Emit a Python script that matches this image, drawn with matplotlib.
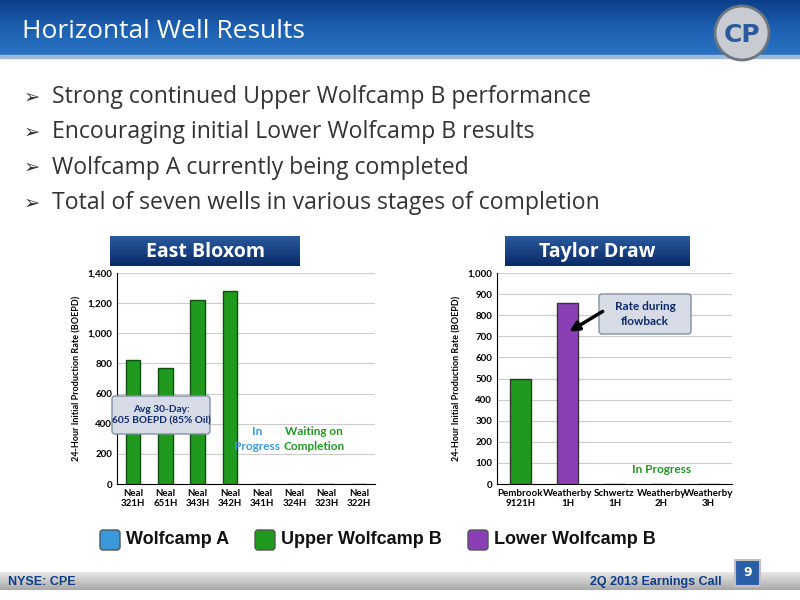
import matplotlib
matplotlib.use("Agg")
import matplotlib.pyplot as plt
import numpy as np
from matplotlib.patches import Rectangle, FancyBboxPatch

title = "Horizontal Well Results"
bullets = ["Strong continued Upper Wolfcamp B performance",
           "Encouraging initial Lower Wolfcamp B results",
           "Wolfcamp A currently being completed",
           "Total of seven wells in various stages of completion"]
east_wells = ["Neal\n321H", "Neal\n651H", "Neal\n343H", "Neal\n342H", "Neal\n341H", "Neal\n324H", "Neal\n323H", "Neal\n322H"]
east_vals = [825, 770, 1220, 1280, 0, 0, 0, 0]
taylor_wells = ["Pembrook\n9121H", "Weatherby\n1H", "Schwertz\n1H", "Weatherby\n2H", "Weatherby\n3H"]
taylor_vals = [500, 860, 0, 0, 0]
taylor_colors = ["#1f9a1f", "#8a3fb5", "#1f9a1f", "#1f9a1f", "#1f9a1f"]

W, H = 800, 600
SF = "Lato"
fig = plt.figure(figsize=(8, 6), dpi=100)
bg = fig.add_axes([0, 0, 1, 1]); bg.set_xlim(0, W); bg.set_ylim(H, 0); bg.axis("off")

grad = np.linspace(0, 1, 256).reshape(-1, 1)
bg.imshow(grad, extent=(0, W, 55, 0), cmap=matplotlib.colors.LinearSegmentedColormap.from_list("h", ["#0d3f8a", "#1d5fb0", "#2a73c4"]), aspect="auto", zorder=0)
bg.add_patch(Rectangle((0, 55), W, 3, color="#9fb8d8", zorder=1))
bg.text(22, 38, title, color="white", fontsize=19, family="Open Sans", va="baseline")
bg.add_patch(plt.Circle((742, 33), 27, facecolor="#c8ccd2", edgecolor="#6d7680", lw=2, zorder=2))
bg.text(742, 35, "CP", ha="center", va="center", fontsize=18, fontweight="bold", color="#2a5a9a", zorder=3)

for i, b in enumerate(bullets):
    y = 97 + i * 35.3
    bg.text(24, y, "\u27A2", fontsize=14, va="center", color="#333333", family="DejaVu Sans")
    bg.text(52, y, b, fontsize=16.6, va="center", color="#333333", family="Open Sans")

for x0, x1, t in [(110, 300, "East Bloxom"), (505, 690, "Taylor Draw")]:
    bg.imshow(grad, extent=(x0, x1, 266, 236), cmap=matplotlib.colors.LinearSegmentedColormap.from_list("p", ["#2a5a9e", "#0a2a66"]), aspect="auto", zorder=1)
    bg.text((x0 + x1) / 2, 252, t, color="white", fontsize=14, fontweight="bold", ha="center", va="center", family="Open Sans", zorder=2)

bg.imshow(grad, extent=(0, W, 590, 572), cmap=matplotlib.colors.LinearSegmentedColormap.from_list("f", ["#e8e8e8", "#a8a8a8"]), aspect="auto", zorder=0)
bg.text(8, 582, "NYSE: CPE", fontsize=9, fontweight="bold", color="#0d3f8a", va="center", family="Liberation Sans")
bg.text(722, 582, "2Q 2013 Earnings Call", fontsize=9, fontweight="bold", color="#0d3f8a", va="center", ha="right", family="Liberation Sans")
bg.add_patch(Rectangle((735, 560), 25, 26, facecolor="#2a5fa8", edgecolor="#c0c0c0", lw=1.5, zorder=2))
bg.text(747.5, 573, "9", color="white", fontsize=9, fontweight="bold", ha="center", va="center", zorder=3)

for x, lab, c in [(100, "Wolfcamp A", "#3a9ad9"), (255, "Upper Wolfcamp B", "#1f9a1f"), (468, "Lower Wolfcamp B", "#8a3fb5")]:
    bg.add_patch(FancyBboxPatch((x, 530), 20, 20, boxstyle="round,pad=0,rounding_size=3", facecolor=c, edgecolor="#555555", lw=1))
    bg.text(x + 26, 540, lab, fontsize=13, fontweight="bold", va="center", color="#111111", family="Liberation Sans")

def ax_at(x0, y0, x1, y1):
    return fig.add_axes([x0 / W, 1 - y1 / H, (x1 - x0) / W, (y1 - y0) / H])

def style(ax, labels, ticks):
    ax.set_yticks(ticks)
    ax.set_yticklabels([f"{v:,}" for v in ticks], fontsize=7, fontweight="bold", family=SF)
    ax.set_xticks(np.arange(len(labels)))
    ax.set_xticklabels(labels, fontsize=7, fontweight="bold", family=SF)
    ax.grid(axis="y", color="#cccccc", lw=0.8, zorder=0)
    ax.set_ylabel("24-Hour Initial Production Rate (BOEPD)", fontsize=6.5, fontweight="bold", family=SF)
    ax.tick_params(length=0)
    for s in ["top", "right"]: ax.spines[s].set_visible(False)

a1 = ax_at(117, 273, 375, 484)
a1.bar(np.arange(len(east_wells)), east_vals, width=0.45, color="#1f9a1f", edgecolor="#0d4f0d", lw=1, zorder=3)
a1.set_xlim(-0.5, len(east_wells) - 0.5); a1.set_ylim(0, 1400)
style(a1, east_wells, list(range(0, 1401, 200)))
a1.text(3.85, 300, "In\nProgress", color="#3a9ad9", fontsize=8.5, fontweight="bold", ha="center", va="center", linespacing=1.4, family=SF)
a1.text(5.6, 300, "Waiting on\nCompletion", color="#1f9a1f", fontsize=8.5, fontweight="bold", ha="center", va="center", linespacing=1.4, family=SF)

a2 = ax_at(497, 273, 732, 484)
a2.bar(np.arange(len(taylor_wells)), taylor_vals, width=0.45, color=taylor_colors, edgecolor="#333333", lw=1, zorder=3)
a2.set_xlim(-0.5, len(taylor_wells) - 0.5); a2.set_ylim(0, 1000)
style(a2, taylor_wells, list(range(0, 1001, 100)))
a2.text(3, 70, "In Progress", color="#1f9a1f", fontsize=8.5, fontweight="bold", ha="center", va="center", family=SF)

ov = fig.add_axes([0, 0, 1, 1]); ov.set_xlim(0, W); ov.set_ylim(H, 0); ov.axis("off")
ov.add_patch(FancyBboxPatch((112, 396), 98, 38, boxstyle="round,pad=0,rounding_size=3", facecolor="#d6dbe6", edgecolor="#8090a8", lw=1))
ov.text(161, 415, "Avg 30-Day:\n605 BOEPD (85% Oil)", fontsize=7.3, fontweight="bold", color="#0d2a6a", ha="center", va="center", linespacing=1.4, family=SF)
ov.annotate("", xy=(567, 333), xytext=(605, 310), arrowprops=dict(arrowstyle="-|>", color="black", lw=2.5, mutation_scale=14))
ov.add_patch(FancyBboxPatch((599, 294), 92, 40, boxstyle="round,pad=0,rounding_size=3", facecolor="#d6dbe6", edgecolor="#8090a8", lw=1))
ov.text(645, 314, "Rate during\nflowback", fontsize=8.5, fontweight="bold", color="#0d2a6a", ha="center", va="center", linespacing=1.4, family=SF)

fig.savefig("out.png", dpi=100)
